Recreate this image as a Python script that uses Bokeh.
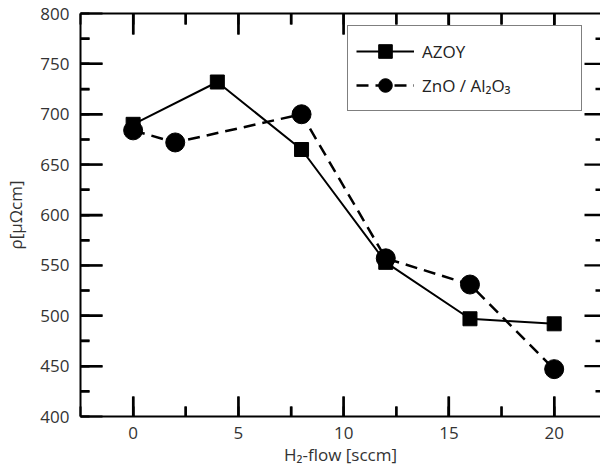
from bokeh.plotting import figure
from bokeh.models import LinearAxis, Legend, LegendItem, SingleIntervalTicker, Range1d
from bokeh.embed import file_html
from bokeh.resources import INLINE

# data
h2_flow_azoy = [0, 4, 8, 12, 16, 20]
rho_azoy = [690, 732, 665, 553, 497, 492]
h2_flow_zno = [0, 2, 8, 12, 16, 20]
rho_zno = [684, 672, 700, 557, 531, 447]

# tick values
x_major_ticks = [0, 5, 10, 15, 20]
x_minor_ticks = [2.5, 7.5, 12.5, 17.5]
y_major_ticks = [450, 500, 550, 600, 650, 700, 750]
y_minor_ticks = [425, 475, 525, 575, 625, 675, 725, 775]

FONT = "Open Sans"
TXT = "#333333"
X0, X1 = -2.5, 22.2
Y0, Y1 = 400, 800
W, H = 600, 470
BL, BT, BR, BB = 80, 13, 0, 54
FW, FH = W - BL - BR, H - BT - BB
ux = (X1 - X0) / FW
uy = (Y1 - Y0) / FH

p = figure(width=W, height=H, x_range=Range1d(X0, X1), y_range=Range1d(Y0, Y1),
           output_backend="svg", toolbar_location=None,
           min_border_left=BL, min_border_top=BT, min_border_right=BR, min_border_bottom=BB)
p.outline_line_color = None
p.xgrid.grid_line_color = None
p.ygrid.grid_line_color = None

xax = p.xaxis[0]
yax = p.yaxis[0]
xax.ticker = SingleIntervalTicker(interval=5, num_minor_ticks=2)
yax.ticker = SingleIntervalTicker(interval=50, num_minor_ticks=2)
for ax, mj, mn in ((xax, 20, 10), (yax, 22, 9)):
    ax.major_tick_in = mj
    ax.major_tick_out = 0
    ax.minor_tick_in = mn
    ax.minor_tick_out = 0
    ax.major_tick_line_width = 2
    ax.minor_tick_line_width = 2
    ax.major_tick_line_color = "black"
    ax.minor_tick_line_color = "black"
    ax.axis_line_width = 2
    ax.axis_line_color = "black"
    ax.major_label_text_font = FONT
    ax.major_label_text_font_size = "17px"
    ax.major_label_text_color = TXT
    ax.axis_label_text_font = FONT
    ax.axis_label_text_font_size = "17px"
    ax.axis_label_text_font_style = "normal"
    ax.axis_label_text_color = TXT
xax.major_label_standoff = 10
xax.axis_label_standoff = 1
yax.major_label_standoff = 11
yax.axis_label_standoff = 10
xax.axis_label = "H₂-flow [sccm]"
yax.axis_label = "ρ[µΩcm]"

top = LinearAxis(ticker=SingleIntervalTicker(interval=5, num_minor_ticks=2),
                 major_label_text_font_size="0px", major_label_standoff=0,
                 major_tick_in=21, major_tick_out=0, minor_tick_in=11, minor_tick_out=0,
                 major_tick_line_width=2, minor_tick_line_width=2,
                 axis_line_width=2, axis_line_color="black")
p.add_layout(top, "above")

# tick marks inside the frame on all four sides (drawn as short line glyphs)
TW = 2.4
def vticks(vals, y_from, length_px, direction):
    for v in vals:
        p.line([v, v], [y_from, y_from + direction * length_px * uy],
               line_color="black", line_width=TW)

def hticks(vals, x_from, length_px, direction):
    for v in vals:
        p.line([x_from, x_from + direction * length_px * ux], [v, v],
               line_color="black", line_width=TW)

vticks(x_major_ticks, Y0, 20, 1)
vticks(x_minor_ticks, Y0, 10, 1)
vticks(x_major_ticks, Y1, 21, -1)
vticks(x_minor_ticks, Y1, 11, -1)
hticks(y_major_ticks, X0, 22, 1)
hticks(y_minor_ticks, X0, 9, 1)
hticks(y_major_ticks, X1, 16, -1)
hticks(y_minor_ticks, X1, 5, -1)

l1 = p.line(h2_flow_azoy, rho_azoy, line_color="black", line_width=2)
s1 = p.scatter(h2_flow_azoy, rho_azoy, marker="square", size=14, fill_color="black", line_color="black")
l2 = p.line(h2_flow_zno, rho_zno, line_color="black", line_width=2.5, line_dash="12 7")
s2 = p.scatter(h2_flow_zno, rho_zno, marker="circle", size=19, fill_color="black", line_color="black")

legend = Legend(items=[LegendItem(label="AZOY", renderers=[l1, s1]),
                       LegendItem(label="ZnO / Al₂O₃", renderers=[l2, s2])],
                location=(267, 305), margin=0, padding=8, spacing=0,
                glyph_width=58, glyph_height=34, label_standoff=8, label_width=151,
                label_text_font=FONT, label_text_font_size="17px", label_text_color="#222222",
                border_line_color="black", border_line_width=1.5,
                background_fill_color="white", background_fill_alpha=1)
p.add_layout(legend)

open("out.html", "w").write(file_html(p, INLINE))
